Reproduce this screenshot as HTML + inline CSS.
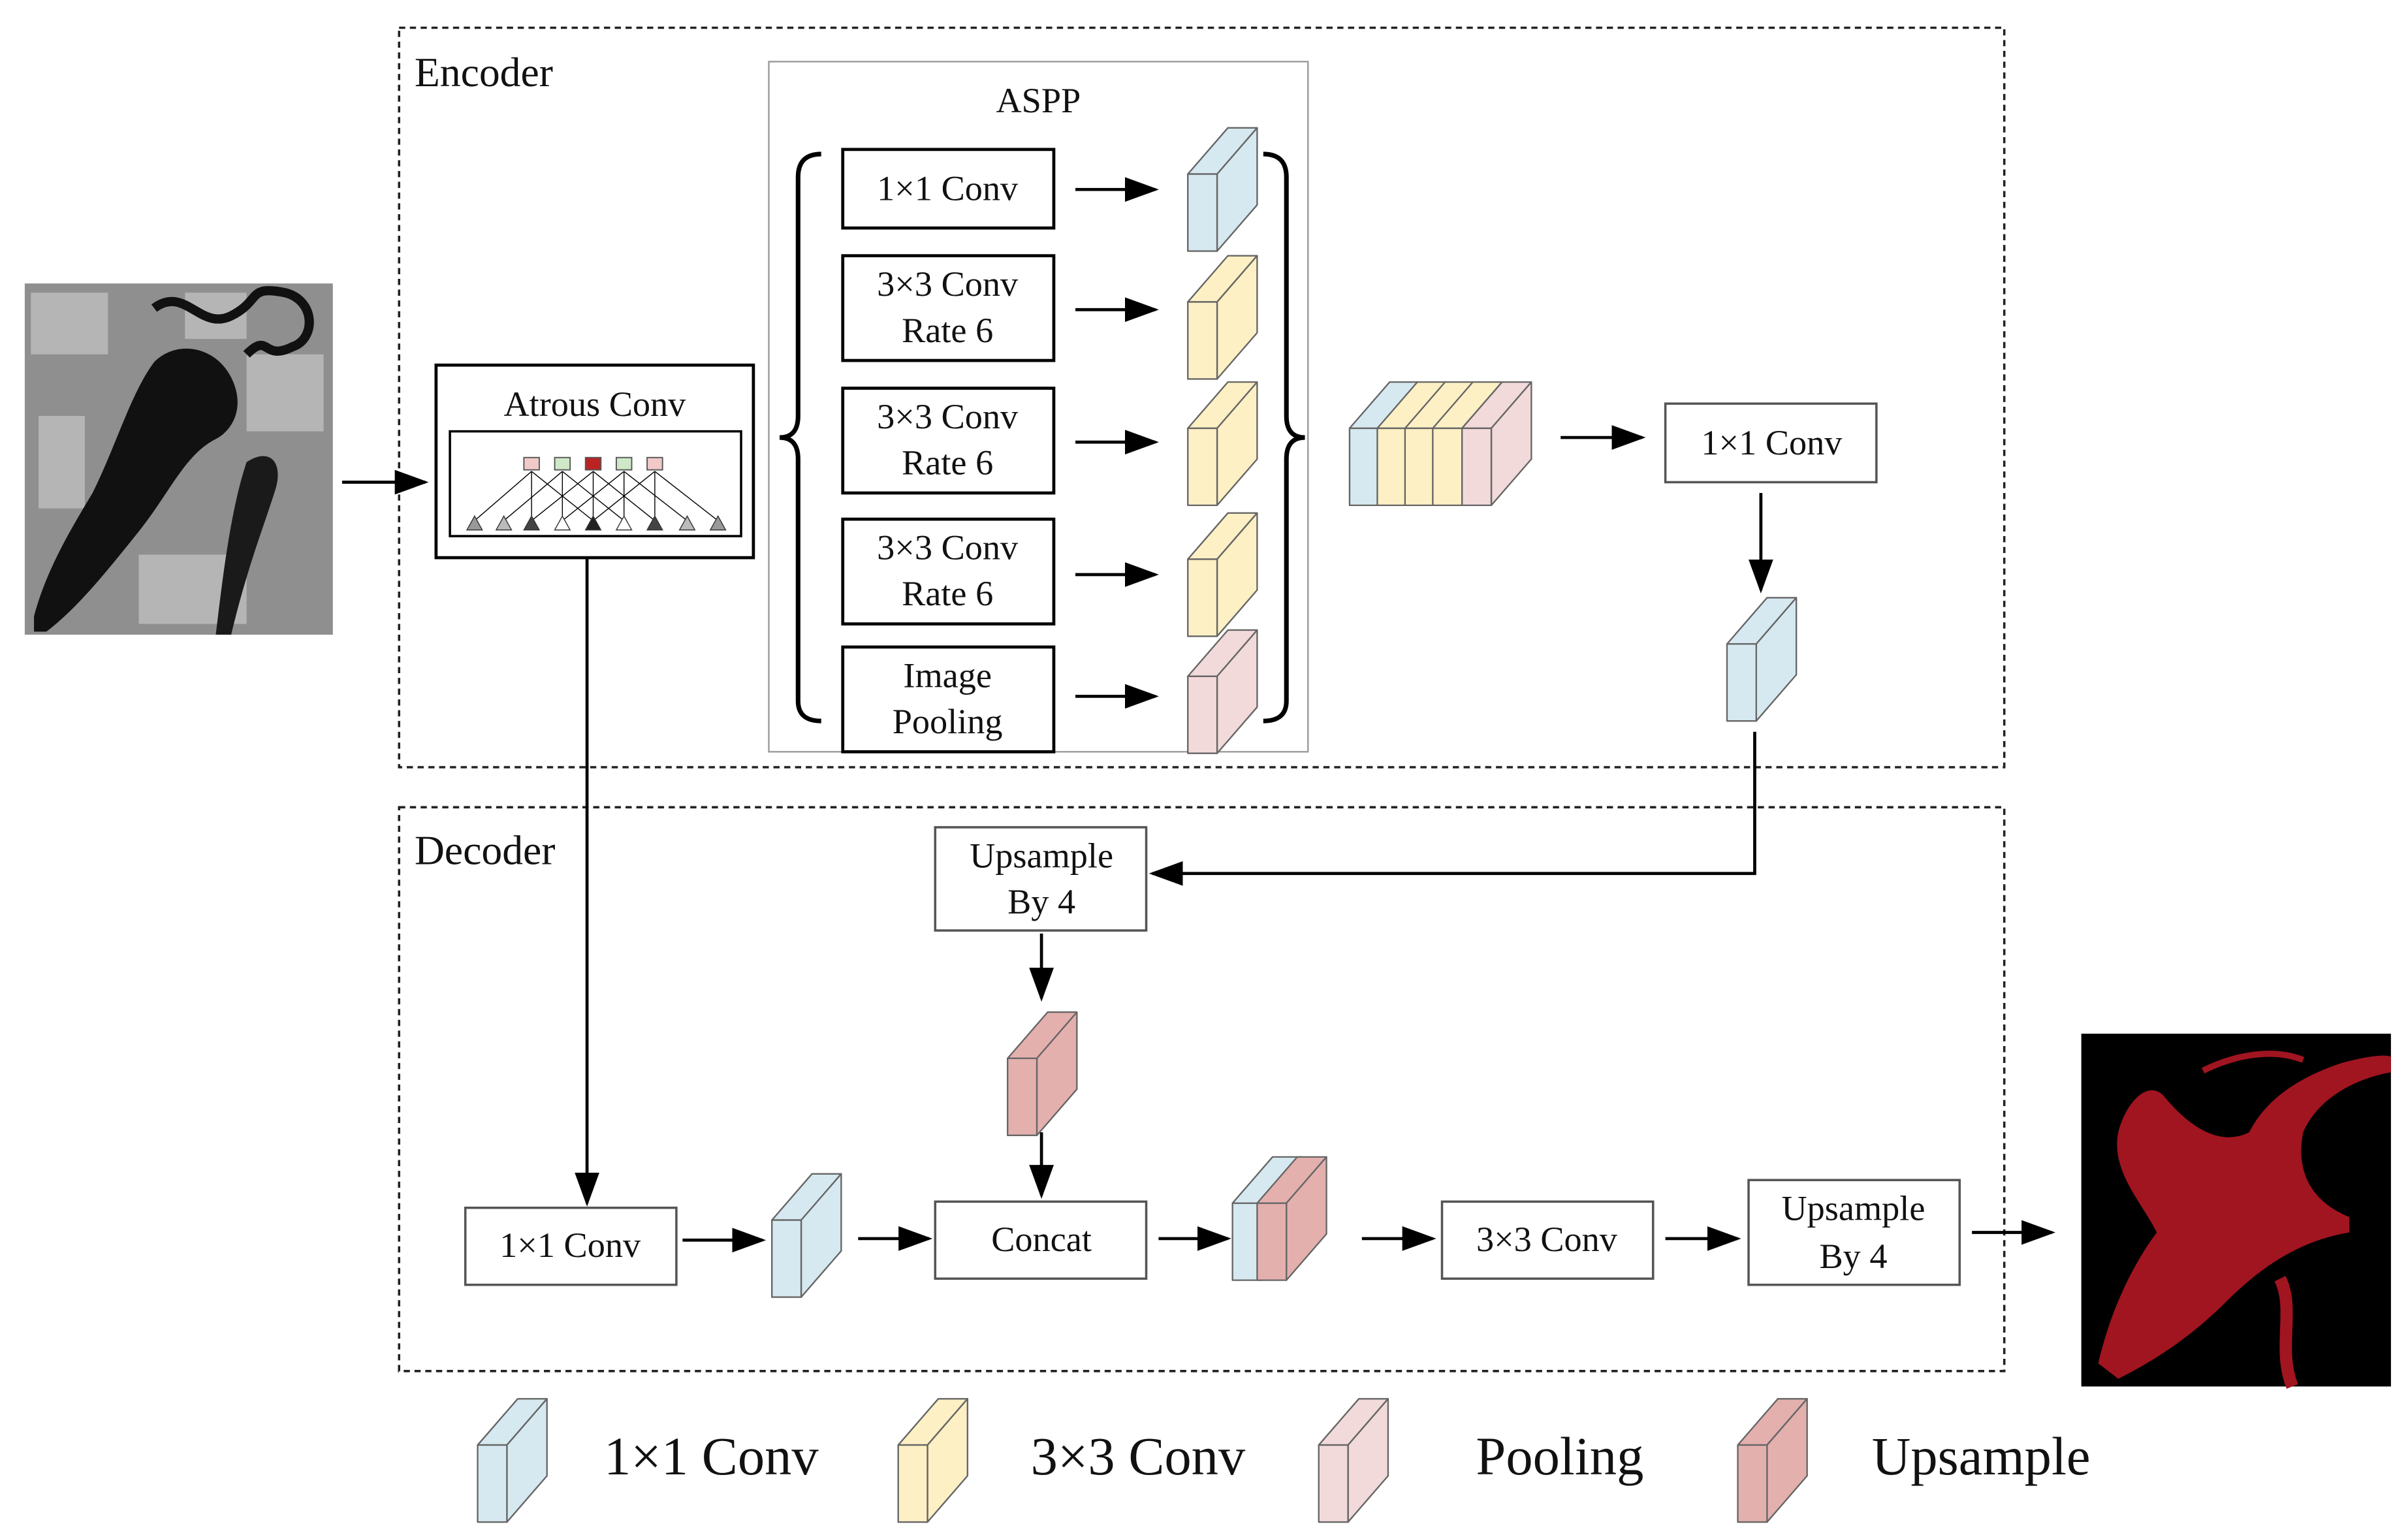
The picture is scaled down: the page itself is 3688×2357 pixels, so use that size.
<!DOCTYPE html>
<html><head><meta charset="utf-8"><style>
html,body{margin:0;padding:0;background:#fff}
svg{display:block}
text{font-family:"Liberation Serif",serif;fill:#111}
</style></head><body>
<svg width="3688" height="2357" viewBox="0 0 1563 999" xmlns="http://www.w3.org/2000/svg">
<defs>
<symbol id="cube" overflow="visible">
<g stroke="#666" stroke-width="1" fill="currentColor" stroke-linejoin="round">
<polygon points="0,30 26,0 45,0 19,30"/>
<polygon points="19,30 45,0 45,50 19,80"/>
<rect x="0" y="30" width="19" height="50"/>
</g>
</symbol>
<marker id="ah2" viewBox="0 0 10 10" refX="9" refY="5" markerWidth="22" markerHeight="16" markerUnits="userSpaceOnUse" orient="auto" preserveAspectRatio="none">
<path d="M0,0 L10,5 L0,10 z" fill="#000"/>
</marker>
</defs>
<rect width="1563" height="999" fill="#fff"/>

<rect x="259" y="18" width="1042" height="480" fill="none" stroke="#222" stroke-width="1.5" stroke-dasharray="4,3"/>
<rect x="259" y="524" width="1042" height="366" fill="none" stroke="#222" stroke-width="1.5" stroke-dasharray="4,3"/>
<text x="269" y="56" font-size="27">Encoder</text>
<text x="269" y="561" font-size="27">Decoder</text>

<!-- input image -->
<rect x="16" y="184" width="200" height="228" fill="#8f8f8f"/>
<g fill="#b5b5b5"><rect x="20" y="190" width="50" height="40"/><rect x="160" y="230" width="50" height="50"/><rect x="25" y="270" width="30" height="60"/><rect x="90" y="360" width="70" height="45"/><rect x="120" y="190" width="40" height="30"/></g>
<path d="M22,400 C30,370 45,345 60,320 C75,290 85,255 100,235 C115,220 140,225 150,245 C160,265 150,280 140,285 C120,295 110,320 90,345 C70,370 50,395 30,410 L22,410 Z" fill="#111"/>
<path d="M100,200 C120,185 130,215 150,205 C170,195 160,185 185,190 C205,195 205,220 190,225 C170,235 175,215 160,230" fill="none" stroke="#111" stroke-width="6"/>
<path d="M160,300 C175,290 185,300 178,320 C170,345 160,370 150,412 L140,412 C145,370 150,330 160,300 Z" fill="#1a1a1a"/>

<line x1="222" y1="313" x2="276" y2="313" stroke="#000" stroke-width="2" marker-end="url(#ah2)"/>

<rect x="283" y="237" width="206" height="125" fill="#fff" stroke="#000" stroke-width="2"/>
<text x="386" y="270" font-size="23" text-anchor="middle">Atrous Conv</text>
<rect x="292" y="280" width="189" height="68" fill="#fff" stroke="#000" stroke-width="1.5"/>
<g stroke="#000" stroke-width="0.6">
<line x1="345" y1="306" x2="308" y2="338"/><line x1="345" y1="306" x2="345" y2="338"/><line x1="345" y1="306" x2="385" y2="338"/>
<line x1="365" y1="306" x2="327" y2="338"/><line x1="365" y1="306" x2="365" y2="338"/><line x1="365" y1="306" x2="405" y2="338"/>
<line x1="385" y1="306" x2="345" y2="338"/><line x1="385" y1="306" x2="385" y2="338"/><line x1="385" y1="306" x2="425" y2="338"/>
<line x1="405" y1="306" x2="365" y2="338"/><line x1="405" y1="306" x2="405" y2="338"/><line x1="405" y1="306" x2="446" y2="338"/>
<line x1="425" y1="306" x2="385" y2="338"/><line x1="425" y1="306" x2="425" y2="338"/><line x1="425" y1="306" x2="466" y2="338"/>
</g>
<g stroke="#555" stroke-width="0.8">
<rect x="340" y="297" width="10" height="8" fill="#f2c9c9"/>
<rect x="360" y="297" width="10" height="8" fill="#cfe8c8"/>
<rect x="380" y="297" width="10" height="8" fill="#b22"/>
<rect x="400" y="297" width="10" height="8" fill="#cfe8c8"/>
<rect x="420" y="297" width="10" height="8" fill="#f2c9c9"/>
</g>
<g stroke="#333" stroke-width="0.6">
<polygon points="308,335 303,344 313,344" fill="#999"/>
<polygon points="327,335 322,344 332,344" fill="#bbb"/>
<polygon points="345,335 340,344 350,344" fill="#444"/>
<polygon points="365,335 360,344 370,344" fill="#fff"/>
<polygon points="385,335 380,344 390,344" fill="#222"/>
<polygon points="405,335 400,344 410,344" fill="#fff"/>
<polygon points="425,335 420,344 430,344" fill="#444"/>
<polygon points="446,335 441,344 451,344" fill="#bbb"/>
<polygon points="466,335 461,344 471,344" fill="#999"/>
</g>

<rect x="499" y="40" width="350" height="448" fill="none" stroke="#999" stroke-width="1"/>
<text x="674" y="73" font-size="23" text-anchor="middle">ASPP</text>
<path d="M533,100 Q518,100 518,115 L518,270 Q518,284 506,284 Q518,284 518,298 L518,455 Q518,468 533,468" fill="none" stroke="#000" stroke-width="3"/>
<path d="M820,100 Q835,100 835,115 L835,270 Q835,284 847,284 Q835,284 835,298 L835,455 Q835,468 820,468" fill="none" stroke="#000" stroke-width="3"/>
<g fill="#fff" stroke="#000" stroke-width="2">
<rect x="547" y="97" width="137" height="51"/>
<rect x="547" y="166" width="137" height="68"/>
<rect x="547" y="252" width="137" height="68"/>
<rect x="547" y="337" width="137" height="68"/>
<rect x="547" y="420" width="137" height="68"/>
</g>
<g font-size="23" text-anchor="middle">
<text x="615" y="130">1×1 Conv</text>
<text x="615" y="192">3×3 Conv</text><text x="615" y="222">Rate 6</text>
<text x="615" y="278">3×3 Conv</text><text x="615" y="308">Rate 6</text>
<text x="615" y="363">3×3 Conv</text><text x="615" y="393">Rate 6</text>
<text x="615" y="446">Image</text><text x="615" y="476">Pooling</text>
</g>
<g stroke="#000" stroke-width="2">
<line x1="698" y1="123" x2="750" y2="123" marker-end="url(#ah2)"/>
<line x1="698" y1="201" x2="750" y2="201" marker-end="url(#ah2)"/>
<line x1="698" y1="287" x2="750" y2="287" marker-end="url(#ah2)"/>
<line x1="698" y1="373" x2="750" y2="373" marker-end="url(#ah2)"/>
<line x1="698" y1="452" x2="750" y2="452" marker-end="url(#ah2)"/>
</g>
<use href="#cube" x="771" y="83" style="color:#d6e9f0"/>
<use href="#cube" x="771" y="166" style="color:#fdf0c4"/>
<use href="#cube" x="771" y="248" style="color:#fdf0c4"/>
<use href="#cube" x="771" y="333" style="color:#fdf0c4"/>
<use href="#cube" x="771" y="409" style="color:#f3dada"/>

<use href="#cube" x="876" y="248" style="color:#d6e9f0"/>
<use href="#cube" x="894" y="248" style="color:#fdf0c4"/>
<use href="#cube" x="912" y="248" style="color:#fdf0c4"/>
<use href="#cube" x="930" y="248" style="color:#fdf0c4"/>
<use href="#cube" x="949" y="248" style="color:#f3dada"/>

<line x1="1013" y1="284" x2="1066" y2="284" stroke="#000" stroke-width="2" marker-end="url(#ah2)"/>
<rect x="1081" y="262" width="137" height="51" fill="#fff" stroke="#555" stroke-width="1.5"/>
<text x="1150" y="295" font-size="23" text-anchor="middle">1×1 Conv</text>
<line x1="1143" y1="320" x2="1143" y2="383" stroke="#000" stroke-width="2" marker-end="url(#ah2)"/>
<use href="#cube" x="1121" y="388" style="color:#d6e9f0"/>

<polyline points="1139,475 1139,567 748,567" fill="none" stroke="#000" stroke-width="2" marker-end="url(#ah2)"/>
<rect x="607" y="537" width="137" height="67" fill="#fff" stroke="#555" stroke-width="1.5"/>
<text x="676" y="563" font-size="23" text-anchor="middle">Upsample</text>
<text x="676" y="593" font-size="23" text-anchor="middle">By 4</text>
<line x1="676" y1="606" x2="676" y2="648" stroke="#000" stroke-width="2" marker-end="url(#ah2)"/>
<use href="#cube" x="654" y="657" style="color:#e3b0ae"/>
<line x1="676" y1="735" x2="676" y2="776" stroke="#000" stroke-width="2" marker-end="url(#ah2)"/>
<rect x="607" y="780" width="137" height="50" fill="#fff" stroke="#555" stroke-width="1.5"/>
<text x="676" y="812" font-size="23" text-anchor="middle">Concat</text>

<line x1="381" y1="362" x2="381" y2="781" stroke="#000" stroke-width="2" marker-end="url(#ah2)"/>
<rect x="302" y="784" width="137" height="50" fill="#fff" stroke="#555" stroke-width="1.5"/>
<text x="370" y="816" font-size="23" text-anchor="middle">1×1 Conv</text>
<line x1="443" y1="805" x2="495" y2="805" stroke="#000" stroke-width="2" marker-end="url(#ah2)"/>
<use href="#cube" x="501" y="762" style="color:#d6e9f0"/>
<line x1="557" y1="804" x2="603" y2="804" stroke="#000" stroke-width="2" marker-end="url(#ah2)"/>
<line x1="752" y1="804" x2="797" y2="804" stroke="#000" stroke-width="2" marker-end="url(#ah2)"/>
<use href="#cube" x="800" y="751" style="color:#d6e9f0"/>
<use href="#cube" x="816" y="751" style="color:#e3b0ae"/>
<line x1="884" y1="804" x2="930" y2="804" stroke="#000" stroke-width="2" marker-end="url(#ah2)"/>
<rect x="936" y="780" width="137" height="50" fill="#fff" stroke="#555" stroke-width="1.5"/>
<text x="1004" y="812" font-size="23" text-anchor="middle">3×3 Conv</text>
<line x1="1081" y1="804" x2="1128" y2="804" stroke="#000" stroke-width="2" marker-end="url(#ah2)"/>
<rect x="1135" y="766" width="137" height="68" fill="#fff" stroke="#555" stroke-width="1.5"/>
<text x="1203" y="792" font-size="23" text-anchor="middle">Upsample</text>
<text x="1203" y="823" font-size="23" text-anchor="middle">By 4</text>
<line x1="1280" y1="800" x2="1332" y2="800" stroke="#000" stroke-width="2" marker-end="url(#ah2)"/>

<!-- output image -->
<rect x="1351" y="671" width="201" height="229" fill="#000"/>
<path d="M1362,885 C1370,850 1385,820 1400,800 C1390,780 1370,760 1375,735 C1380,715 1395,700 1405,712 C1420,730 1440,745 1460,735 C1470,715 1490,700 1520,690 C1535,686 1548,684 1552,686 L1552,696 C1530,700 1505,712 1495,735 C1490,760 1500,780 1525,790 L1525,800 C1495,805 1470,820 1445,845 C1420,870 1395,885 1375,895 Z" fill="#a01520"/>
<path d="M1480,830 C1490,850 1478,875 1488,900" fill="none" stroke="#a01520" stroke-width="8"/>
<path d="M1430,695 C1450,685 1475,680 1495,688" fill="none" stroke="#a01520" stroke-width="4"/>

<use href="#cube" x="310" y="908" style="color:#d6e9f0"/>
<use href="#cube" x="583" y="908" style="color:#fdf0c4"/>
<use href="#cube" x="856" y="908" style="color:#f3dada"/>
<use href="#cube" x="1128" y="908" style="color:#e3b0ae"/>
<g font-size="35">
<text x="392" y="957">1×1 Conv</text>
<text x="669" y="957">3×3 Conv</text>
<text x="958" y="957">Pooling</text>
<text x="1215" y="957">Upsample</text>
</g>
</svg>
</body></html>
